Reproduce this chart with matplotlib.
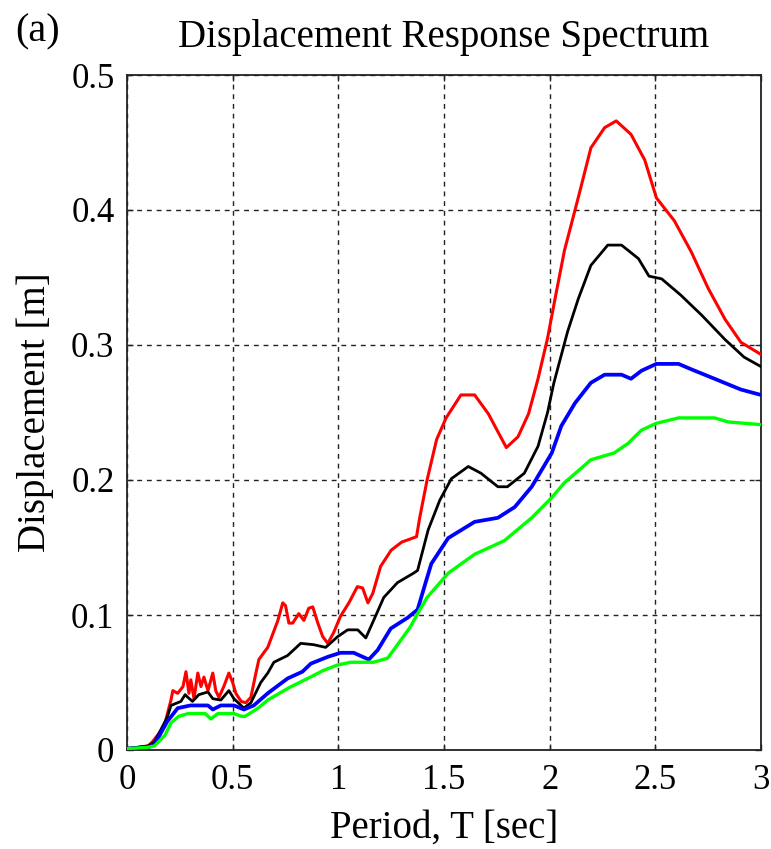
import numpy as np
import matplotlib
matplotlib.use("Agg")
import matplotlib.pyplot as plt

# ---- data (period T [s], displacement [m]) ----
T_red = [0, 0.1, 0.12, 0.175, 0.208, 0.217, 0.24, 0.265, 0.279, 0.293, 0.302, 0.317, 0.335, 0.35, 0.364,
         0.383, 0.406, 0.42, 0.435, 0.458, 0.482, 0.50, 0.515, 0.54, 0.562, 0.586, 0.61, 0.624, 0.647,
         0.666, 0.714, 0.737, 0.75, 0.766, 0.784, 0.813, 0.837, 0.86, 0.879, 0.903, 0.926, 0.95, 0.978,
         1.01, 1.05, 1.09, 1.115, 1.14, 1.163, 1.20, 1.25, 1.30, 1.37, 1.385, 1.42, 1.465, 1.51, 1.58,
         1.645, 1.71, 1.795, 1.85, 1.90, 1.945, 1.99, 2.03, 2.07, 2.135, 2.195, 2.26, 2.315, 2.385, 2.45,
         2.505, 2.59, 2.67, 2.75, 2.83, 2.905, 3.0]
D_red = [0.001, 0.003, 0.006, 0.017, 0.037, 0.044, 0.042, 0.047, 0.058, 0.042, 0.052, 0.038, 0.057, 0.047,
         0.054, 0.044, 0.057, 0.044, 0.039, 0.047, 0.057, 0.05, 0.042, 0.036, 0.035, 0.039, 0.057, 0.067,
         0.072, 0.076, 0.096, 0.109, 0.107, 0.094, 0.094, 0.101, 0.096, 0.105, 0.106, 0.094, 0.084, 0.079,
         0.087, 0.099, 0.109, 0.121, 0.120, 0.109, 0.116, 0.136, 0.148, 0.154, 0.158, 0.172, 0.200, 0.230,
         0.246, 0.263, 0.263, 0.249, 0.224, 0.232, 0.249, 0.275, 0.305, 0.338, 0.370, 0.409, 0.446, 0.461,
         0.466, 0.456, 0.437, 0.409, 0.392, 0.369, 0.342, 0.319, 0.302, 0.293]

T_black = [0, 0.1, 0.13, 0.19, 0.208, 0.255, 0.275, 0.288, 0.31, 0.34, 0.383, 0.406, 0.444, 0.482, 0.506,
           0.553, 0.586, 0.633, 0.666, 0.695, 0.76, 0.822, 0.884, 0.94, 0.997, 1.044, 1.092, 1.13, 1.167,
           1.215, 1.28, 1.356, 1.375, 1.425, 1.48, 1.535, 1.615, 1.675, 1.755, 1.80, 1.88, 1.945, 1.99,
           2.02, 2.085, 2.135, 2.195, 2.275, 2.34, 2.42, 2.47, 2.53, 2.62, 2.72, 2.83, 2.92, 3.0]
D_black = [0.001, 0.003, 0.006, 0.024, 0.033, 0.036, 0.041, 0.039, 0.036, 0.041, 0.043, 0.038, 0.037,
           0.044, 0.038, 0.031, 0.035, 0.050, 0.057, 0.065, 0.070, 0.079, 0.078, 0.076, 0.084, 0.089,
           0.089, 0.083, 0.096, 0.113, 0.124, 0.131, 0.133, 0.163, 0.185, 0.201, 0.210, 0.205, 0.195,
           0.195, 0.205, 0.225, 0.250, 0.272, 0.310, 0.334, 0.359, 0.374, 0.374, 0.364, 0.351, 0.349,
           0.337, 0.322, 0.304, 0.291, 0.284]

T_blue = [0, 0.1, 0.13, 0.19, 0.24, 0.30, 0.383, 0.406, 0.444, 0.506, 0.553, 0.60, 0.666, 0.70, 0.76,
          0.83, 0.87, 0.95, 1.01, 1.073, 1.144, 1.186, 1.248, 1.328, 1.375, 1.413, 1.44, 1.52, 1.645,
          1.755, 1.835, 1.915, 2.01, 2.055, 2.12, 2.195, 2.26, 2.34, 2.385, 2.435, 2.505, 2.61, 2.67,
          2.78, 2.905, 3.0]
D_blue = [0.001, 0.002, 0.004, 0.021, 0.031, 0.033, 0.033, 0.030, 0.033, 0.033, 0.030, 0.033, 0.042,
          0.046, 0.053, 0.058, 0.064, 0.069, 0.072, 0.072, 0.067, 0.074, 0.090, 0.098, 0.104, 0.124,
          0.138, 0.157, 0.169, 0.172, 0.180, 0.195, 0.220, 0.240, 0.257, 0.272, 0.278, 0.278, 0.275,
          0.281, 0.286, 0.286, 0.282, 0.275, 0.267, 0.263]

T_green = [0, 0.1, 0.13, 0.18, 0.208, 0.245, 0.29, 0.37, 0.397, 0.43, 0.506, 0.54, 0.56, 0.62, 0.666,
           0.765, 0.855, 0.93, 0.997, 1.059, 1.167, 1.233, 1.28, 1.34, 1.375, 1.42, 1.52, 1.645, 1.785,
           1.915, 2.01, 2.07, 2.10, 2.195, 2.305, 2.37, 2.435, 2.505, 2.61, 2.78, 2.845, 3.0]
D_green = [0.001, 0.002, 0.003, 0.011, 0.020, 0.025, 0.027, 0.027, 0.023, 0.027, 0.027, 0.025, 0.025,
           0.031, 0.037, 0.046, 0.053, 0.059, 0.063, 0.065, 0.065, 0.068, 0.078, 0.091, 0.101, 0.113,
           0.131, 0.145, 0.155, 0.172, 0.187, 0.198, 0.202, 0.215, 0.220, 0.227, 0.237, 0.242, 0.246,
           0.246, 0.243, 0.241]

x_ticks = [0, 0.5, 1, 1.5, 2, 2.5, 3]
x_tick_labels = ["0", "0.5", "1", "1.5", "2", "2.5", "3"]
y_ticks = [0, 0.1, 0.2, 0.3, 0.4, 0.5]
y_tick_labels = ["0", "0.1", "0.2", "0.3", "0.4", "0.5"]

plt.rcParams['font.family'] = ['Liberation Serif', 'DejaVu Serif']

fig = plt.figure(figsize=(7.71, 8.49), dpi=100)
ax = fig.add_axes([127 / 771, 1 - 750 / 849, (761 - 127) / 771, (750 - 75) / 849])

ax.plot(T_red, D_red, color='#ff0000', lw=2.2, zorder=3)
ax.plot(T_black, D_black, color='#000000', lw=2.0, zorder=4)
ax.plot(T_blue, D_blue, color='#0000ff', lw=2.7, zorder=5)
ax.plot(T_green, D_green, color='#00ff00', lw=2.4, zorder=6)

ax.set_xlim(0, 3)
ax.set_ylim(0, 0.5)
ax.set_xticks(x_ticks)
ax.set_xticklabels(x_tick_labels)
ax.set_yticks(y_ticks)
ax.set_yticklabels(y_tick_labels)
ax.grid(True, color='#222222', linestyle=(0, (3.5, 3.5)), linewidth=1.0)
ax.tick_params(direction='in', length=4, width=1.0, top=True, right=True,
               labelsize=25, colors='#222222', labelcolor='black')
ax.tick_params(axis='y', pad=9)
ax.tick_params(axis='x', pad=10)
for s in ax.spines.values():
    s.set_linewidth(1.3)
    s.set_color('#222222')

ax.set_xlabel('Period, T [sec]', fontsize=28, labelpad=9)
ax.set_ylabel('Displacement [m]', fontsize=28, labelpad=12)
ax.set_title('Displacement Response Spectrum', fontsize=28, pad=20)
fig.text(15 / 771, 1 - 32 / 849, '(a)', fontsize=29, va='center', ha='left')

fig.savefig('out.png', dpi=100)
